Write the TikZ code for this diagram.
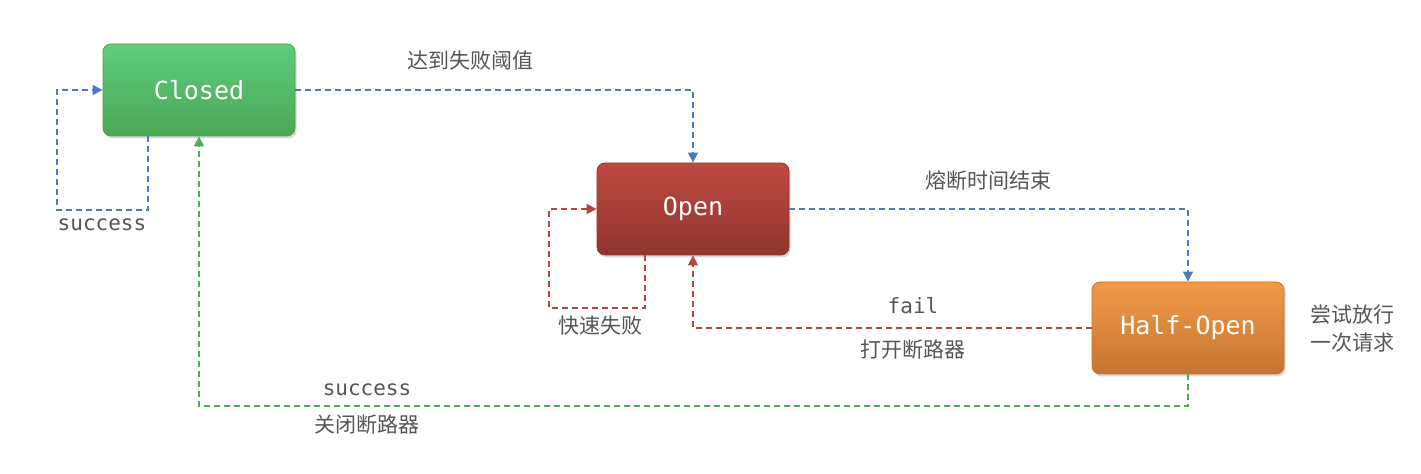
\documentclass[tikz,border=0pt]{standalone}
\usepackage{fontspec}
\setmonofont{DejaVu Sans Mono}
\newfontfamily\cjk{Noto Sans CJK SC}
\usetikzlibrary{arrows.meta,shadows}
\definecolor{flowblue}{HTML}{5079BD}
\definecolor{flowred}{HTML}{B5453F}
\definecolor{flowgreen}{HTML}{4CAE5A}
\definecolor{labelgray}{HTML}{555555}
\definecolor{closedtop}{HTML}{5ECC7E}
\definecolor{closedbot}{HTML}{4BA854}
\definecolor{opentop}{HTML}{BD4A41}
\definecolor{openbot}{HTML}{91342F}
\definecolor{halftop}{HTML}{F19A46}
\definecolor{halfbot}{HTML}{C57433}
\tikzset{
  statebox/.style={rounded corners=4pt,minimum width=96pt,minimum height=46pt,
    text=white,font=\ttfamily\fontsize{12.5}{14}\selectfont,line width=0.4pt,
    drop shadow={shadow xshift=0.8pt,shadow yshift=-1.2pt,opacity=0.3}},
  flow/.style={dashed,dash pattern=on 3pt off 2pt,line width=0.7pt,
    -{Triangle[length=5pt,width=5pt]}},
  lbl/.style={text=labelgray,font=\ttfamily\fontsize{10.5}{12}\selectfont},
  cjklbl/.style={text=labelgray,font=\cjk\fontsize{10.5}{14}\selectfont,align=center}
}
\begin{document}
\begin{tikzpicture}[x=0.5pt,y=-0.5pt]
\useasboundingbox (0,0) rectangle (1421,474);
% states
\node[statebox,draw=closedbot!80!olive,top color=closedtop,bottom color=closedbot] (closed) at (199,90) {Closed};
\node[statebox,draw=openbot,top color=opentop,bottom color=openbot] (open) at (693,209) {Open};
\node[statebox,draw=halfbot,top color=halftop,bottom color=halfbot] (half) at (1188,328) {Half-Open};
% transitions
\draw[flow,flowblue] (closed.south -| 148,0) -- (148,210) -- (57,210) |- (closed.west);
\draw[flow,flowblue] (closed.east) -| (open.north);
\draw[flow,flowred] (open.south -| 645,0) -- (645,308) -- (549,308) |- (open.west);
\draw[flow,flowblue] (open.east) -| (half.north);
\draw[flow,flowred] (half.west) -| (open.south);
\draw[flow,flowgreen] (half.south) -- (1188,406) -| (closed.south);
% labels
\node[lbl] (l1) at (102,225) {success};
\node[cjklbl] (l2) at (470,61) {达到失败阈值};
\node[cjklbl] (l3) at (600,326) {快速失败};
\node[cjklbl] (l4) at (988,181) {熔断时间结束};
\node[lbl] (l5) at (913,306) {fail};
\node[cjklbl] (l6) at (913,350) {打开断路器};
\node[cjklbl] (l7) at (1352,329) {尝试放行\\一次请求};
\node[lbl] (l8) at (367,390) {success};
\node[cjklbl] (l9) at (367,425) {关闭断路器};
\end{tikzpicture}
\end{document}
